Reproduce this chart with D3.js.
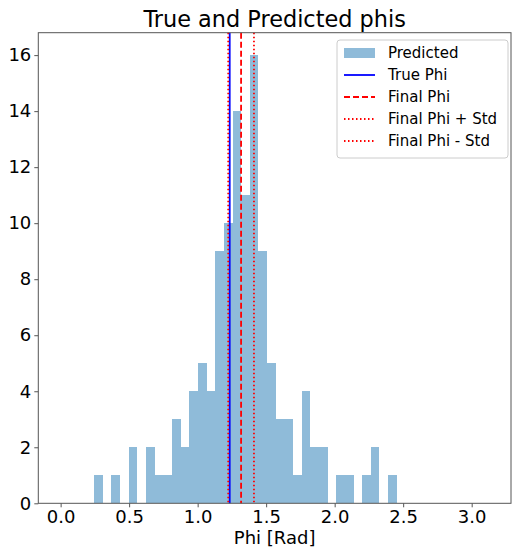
<!DOCTYPE html>
<html>
<head>
<meta charset="utf-8">
<script src="https://cdn.jsdelivr.net/npm/d3@7"></script>
<style>
  body { margin: 0; background: #fff; }
  text { font-family: "DejaVu Sans", sans-serif; fill: #000; }
</style>
</head>
<body>
<svg width="512" height="550"></svg>
<script>
// histogram counts (35 equal bins)
const binStart = 0.245;
const binEnd = 2.453;
const counts = [1, 0, 1, 0, 2, 0, 2, 1, 1, 3, 2, 4, 5, 4, 9, 10, 14, 11, 16, 9,
  5, 3, 3, 1, 4, 2, 2, 0, 1, 1, 0, 1, 2, 0, 1];

const truePhi = 1.234;
const finalPhi = 1.317;
const finalStd = 0.094;

const xTicks = [0.0, 0.5, 1.0, 1.5, 2.0, 2.5, 3.0];
const yTicks = [0, 2, 4, 6, 8, 10, 12, 14, 16];

const svg = d3.select("svg");
const mLeft = 38.3, mRight = 511, mTop = 32.7, mBottom = 503.3;

const x = d3.scaleLinear().domain([-0.163, 3.287]).range([mLeft, mRight]);
const y = d3.scaleLinear().domain([0, 16.8]).range([mBottom, mTop]);

// bins
const binW = (binEnd - binStart) / counts.length;
const bins = counts.map((c, i) => ({ x0: binStart + i * binW, x1: binStart + (i + 1) * binW, n: c }));

svg.append("g")
  .selectAll("rect")
  .data(bins.filter((b) => b.n > 0))
  .enter()
  .append("rect")
  .attr("x", (d) => x(d.x0))
  .attr("width", (d) => x(d.x1) - x(d.x0))
  .attr("y", (d) => y(d.n))
  .attr("height", (d) => y(0) - y(d.n))
  .attr("fill", "#1f77b4")
  .attr("fill-opacity", 0.5)
  .attr("shape-rendering", "crispEdges");

// vertical lines
const vlines = [
  { v: truePhi, color: "#0000ff", dash: null },
  { v: finalPhi, color: "#ff0000", dash: "6,3" },
  { v: finalPhi + finalStd, color: "#ff0000", dash: "1.5,2.5" },
  { v: finalPhi - finalStd, color: "#ff0000", dash: "1.5,2.5" },
];
svg.append("g")
  .selectAll("line")
  .data(vlines)
  .enter()
  .append("line")
  .attr("x1", (d) => x(d.v))
  .attr("x2", (d) => x(d.v))
  .attr("y1", mTop)
  .attr("y2", mBottom)
  .attr("stroke", (d) => d.color)
  .attr("stroke-width", 1.8)
  .attr("stroke-dasharray", (d) => d.dash);

// axes
const xAxis = svg.append("g")
  .attr("transform", `translate(0,${mBottom})`)
  .call(d3.axisBottom(x).tickValues(xTicks).tickFormat(d3.format(".1f")).tickSizeOuter(0).tickSize(4).tickPadding(3));
const yAxis = svg.append("g")
  .attr("transform", `translate(${mLeft},0)`)
  .call(d3.axisLeft(y).tickValues(yTicks).tickSizeOuter(0).tickSize(4).tickPadding(3));
[xAxis, yAxis].forEach((a) => {
  a.selectAll("text").style("font-size", "18px").attr("fill", "#000");
  a.selectAll("line").attr("stroke", "#555");
  a.select(".domain").remove();
});

// frame
svg.append("rect")
  .attr("x", mLeft).attr("y", mTop)
  .attr("width", mRight - mLeft).attr("height", mBottom - mTop)
  .attr("fill", "none").attr("stroke", "#555").attr("stroke-width", 1);

// title and label
svg.append("text")
  .attr("x", (mLeft + mRight) / 2).attr("y", 27)
  .attr("text-anchor", "middle")
  .style("font-size", "22.4px")
  .text("True and Predicted phis");
svg.append("text")
  .attr("x", (mLeft + mRight) / 2).attr("y", 544)
  .attr("text-anchor", "middle")
  .style("font-size", "18px")
  .text("Phi [Rad]");

// legend
const legend = svg.append("g").attr("transform", "translate(337,40)");
legend.append("rect")
  .attr("width", 171).attr("height", 118).attr("rx", 3)
  .attr("fill", "#fff").attr("fill-opacity", 0.8)
  .attr("stroke", "#ccc");
const items = [
  { label: "Predicted", kind: "patch" },
  { label: "True Phi", color: "#0000ff", dash: null },
  { label: "Final Phi", color: "#ff0000", dash: "6,3" },
  { label: "Final Phi + Std", color: "#ff0000", dash: "1.5,2.5" },
  { label: "Final Phi - Std", color: "#ff0000", dash: "1.5,2.5" },
];
const row = legend.selectAll("g.item")
  .data(items)
  .enter()
  .append("g")
  .attr("class", "item")
  .attr("transform", (d, i) => `translate(0,${13 + i * 22})`);
row.filter((d) => d.kind === "patch")
  .append("rect")
  .attr("x", 7).attr("y", -5).attr("width", 31).attr("height", 10)
  .attr("fill", "#1f77b4").attr("fill-opacity", 0.5);
row.filter((d) => d.kind !== "patch")
  .append("line")
  .attr("x1", 7).attr("x2", 38)
  .attr("stroke", (d) => d.color)
  .attr("stroke-width", 1.8)
  .attr("stroke-dasharray", (d) => d.dash);
row.append("text")
  .attr("x", 51).attr("dy", "0.35em")
  .style("font-size", "15px")
  .text((d) => d.label);
</script>
</body>
</html>
